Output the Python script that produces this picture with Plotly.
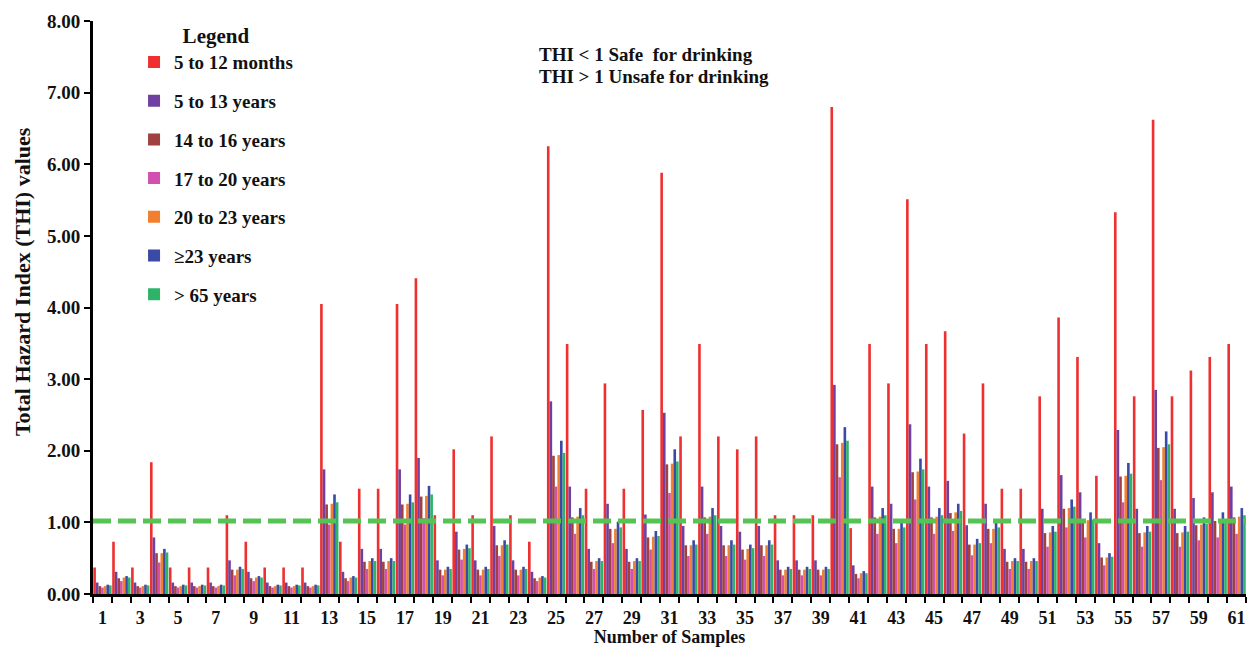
import plotly.graph_objects as go

# Sample numbers 1..61
samples = list(range(1, 62))

# Total Hazard Index per age group
thi_5_12_months = [0.37, 0.73, 0.37, 1.84, 0.37, 0.37, 0.37, 1.10, 0.73, 0.37,
                   0.37, 0.37, 4.05, 0.73, 1.47, 1.47, 4.05, 4.41, 1.10, 2.02,
                   1.10, 2.20, 1.10, 0.73, 6.25, 3.49, 1.47, 2.94, 1.47, 2.57,
                   5.88, 2.20, 3.49, 2.20, 2.02, 2.20, 1.10, 1.10, 1.10, 6.80,
                   0.92, 3.49, 2.94, 5.51, 3.49, 3.67, 2.24, 2.94, 1.47, 1.47,
                   2.76, 3.86, 3.31, 1.65, 5.33, 2.76, 6.62, 2.76, 3.12, 3.31,
                   3.49]
thi_5_13_years = [0.16, 0.31, 0.16, 0.79, 0.16, 0.16, 0.16, 0.47, 0.31, 0.16,
                  0.16, 0.16, 1.74, 0.31, 0.63, 0.63, 1.74, 1.90, 0.47, 0.87,
                  0.47, 0.95, 0.47, 0.31, 2.69, 1.50, 0.63, 1.26, 0.63, 1.11,
                  2.53, 0.95, 1.50, 0.95, 0.87, 0.95, 0.47, 0.47, 0.47, 2.92,
                  0.40, 1.50, 1.26, 2.37, 1.50, 1.58, 0.96, 1.26, 0.63, 0.63,
                  1.19, 1.66, 1.42, 0.71, 2.29, 1.19, 2.85, 1.19, 1.34, 1.42,
                  1.50]
thi_14_16_years = [0.11, 0.22, 0.11, 0.57, 0.11, 0.11, 0.11, 0.34, 0.22, 0.11,
                   0.11, 0.11, 1.25, 0.22, 0.45, 0.45, 1.25, 1.36, 0.34, 0.62,
                   0.34, 0.68, 0.34, 0.22, 1.93, 1.07, 0.45, 0.91, 0.45, 0.79,
                   1.81, 0.68, 1.07, 0.68, 0.62, 0.68, 0.34, 0.34, 0.34, 2.09,
                   0.28, 1.07, 0.91, 1.70, 1.07, 1.13, 0.69, 0.91, 0.45, 0.45,
                   0.85, 1.19, 1.02, 0.51, 1.64, 0.85, 2.04, 0.85, 0.96, 1.02,
                   1.07]
thi_17_20_years = [0.09, 0.18, 0.09, 0.44, 0.09, 0.09, 0.09, 0.26, 0.18, 0.09,
                   0.09, 0.09, 0.97, 0.18, 0.35, 0.35, 0.97, 1.06, 0.26, 0.48,
                   0.26, 0.53, 0.26, 0.18, 1.50, 0.84, 0.35, 0.71, 0.35, 0.62,
                   1.41, 0.53, 0.84, 0.53, 0.48, 0.53, 0.26, 0.26, 0.26, 1.63,
                   0.22, 0.84, 0.71, 1.32, 0.84, 0.88, 0.54, 0.71, 0.35, 0.35,
                   0.66, 0.93, 0.79, 0.40, 1.28, 0.66, 1.59, 0.66, 0.75, 0.79,
                   0.84]
thi_20_23_years = [0.11, 0.23, 0.11, 0.57, 0.11, 0.11, 0.11, 0.34, 0.23, 0.11,
                   0.11, 0.11, 1.26, 0.23, 0.46, 0.46, 1.26, 1.37, 0.34, 0.63,
                   0.34, 0.68, 0.34, 0.23, 1.94, 1.08, 0.46, 0.91, 0.46, 0.80,
                   1.82, 0.68, 1.08, 0.68, 0.63, 0.68, 0.34, 0.34, 0.34, 2.11,
                   0.29, 1.08, 0.91, 1.71, 1.08, 1.14, 0.69, 0.91, 0.46, 0.46,
                   0.86, 1.20, 1.03, 0.51, 1.65, 0.86, 2.05, 0.86, 0.97, 1.03,
                   1.08]
thi_23_plus_years = [0.13, 0.25, 0.13, 0.63, 0.13, 0.13, 0.13, 0.38, 0.25, 0.13,
                     0.13, 0.13, 1.39, 0.25, 0.50, 0.50, 1.39, 1.51, 0.38, 0.69,
                     0.38, 0.75, 0.38, 0.25, 2.14, 1.20, 0.50, 1.01, 0.50, 0.88,
                     2.02, 0.75, 1.20, 0.75, 0.69, 0.75, 0.38, 0.38, 0.38, 2.33,
                     0.32, 1.20, 1.01, 1.89, 1.20, 1.26, 0.77, 1.01, 0.50, 0.50,
                     0.95, 1.32, 1.14, 0.57, 1.83, 0.95, 2.27, 0.95, 1.07, 1.14,
                     1.20]
thi_over_65_years = [0.12, 0.23, 0.12, 0.58, 0.12, 0.12, 0.12, 0.35, 0.23, 0.12,
                     0.12, 0.12, 1.28, 0.23, 0.46, 0.46, 1.28, 1.39, 0.35, 0.64,
                     0.35, 0.69, 0.35, 0.23, 1.97, 1.10, 0.46, 0.93, 0.46, 0.81,
                     1.85, 0.69, 1.10, 0.69, 0.64, 0.69, 0.35, 0.35, 0.35, 2.14,
                     0.29, 1.10, 0.93, 1.74, 1.10, 1.16, 0.71, 0.93, 0.46, 0.46,
                     0.87, 1.22, 1.04, 0.52, 1.68, 0.87, 2.09, 0.87, 0.98, 1.04,
                     1.10]

group_names = ["5 to 12 months", "5 to 13 years", "14 to 16 years",
               "17 to 20 years", "20 to 23 years", "\u226523 years", "> 65 years"]
group_values = [thi_5_12_months, thi_5_13_years, thi_14_16_years,
                thi_17_20_years, thi_20_23_years, thi_23_plus_years,
                thi_over_65_years]
group_colors = ["#EE3030", "#7040A0", "#A04040", "#D250B0",
                "#F08030", "#3A4AA6", "#2EB468"]

# Safety threshold
threshold = 1.02

x_tick_values = list(range(1, 62, 2))
x_tick_labels = [str(v) for v in x_tick_values]
y_tick_values = [0, 1, 2, 3, 4, 5, 6, 7, 8]

FONT = "Liberation Serif"

fig = go.Figure()
for i, (name, vals, col) in enumerate(zip(group_names, group_values, group_colors)):
    fig.add_trace(go.Bar(
        x=samples, y=vals, name=name,
        marker=dict(color=col, line=dict(width=0)),
        legendgroup=f"g{i}",
    ))

fig.add_shape(type="line", xref="paper", yref="y", x0=0, x1=1,
              y0=threshold, y1=threshold,
              line=dict(color="#55C455", width=5, dash="18px,7px"))

fig.add_annotation(x=0.385, y=0.9407, xref="paper", yref="paper",
                   xanchor="left", yanchor="middle", showarrow=False,
                   text="THI &lt; 1 Safe\u00a0 for drinking",
                   font=dict(family=FONT, size=19, color="#111", weight="bold"))
fig.add_annotation(x=0.385, y=0.9023, xref="paper", yref="paper",
                   xanchor="left", yanchor="middle", showarrow=False,
                   text="THI &gt; 1 Unsafe for drinking",
                   font=dict(family=FONT, size=19, color="#111", weight="bold"))

# Y-axis title, set slightly above the plot's vertical centre
fig.add_annotation(x=-0.0616, y=0.546, xref="paper", yref="paper",
                   xanchor="center", yanchor="middle", showarrow=False,
                   textangle=-90,
                   text="Total Hazard Index (THI) values",
                   font=dict(family=FONT, size=22, color="#111", weight="bold"))

fig.update_layout(
    width=1248, height=647,
    margin=dict(l=93, r=2, t=21, b=53),
    paper_bgcolor="white", plot_bgcolor="white",
    barmode="group", bargap=0.03, bargroupgap=0,
    font=dict(family=FONT, color="#111"),
    showlegend=True,
    legend=dict(
        x=0.0356, y=1.009, xanchor="left", yanchor="top",
        bgcolor="rgba(0,0,0,0)",
        title=dict(text="Legend", side="top center",
                   font=dict(family=FONT, size=21, weight="bold")),
        font=dict(family=FONT, size=19, weight="bold", color="#111"),
        tracegroupgap=11,
        itemclick=False,
    ),
    xaxis=dict(
        range=[0.5, 61.5],
        tickmode="array", tickvals=x_tick_values, ticktext=x_tick_labels,
        ticks="outside", ticklen=5, tickcolor="rgba(0,0,0,0)",
        tickfont=dict(family=FONT, size=18, weight="bold"),
        showline=True, linecolor="black", linewidth=3,
        showgrid=False, zeroline=False,
        minor=dict(tickmode="linear", tick0=0.5, dtick=1, ticks="outside",
                   ticklen=6, tickwidth=2, tickcolor="black", showgrid=False),
        title=dict(text="Number of Samples", standoff=0,
                   font=dict(family=FONT, size=18, weight="bold")),
    ),
    yaxis=dict(
        range=[0, 8],
        tickmode="array", tickvals=y_tick_values, tickformat=".2f",
        ticks="outside", ticklen=6, tickwidth=2, tickcolor="black",
        tickfont=dict(family=FONT, size=19, weight="bold"),
        showline=True, linecolor="black", linewidth=3,
        showgrid=False, zeroline=False,
    ),
)

fig.write_html("out.html")
